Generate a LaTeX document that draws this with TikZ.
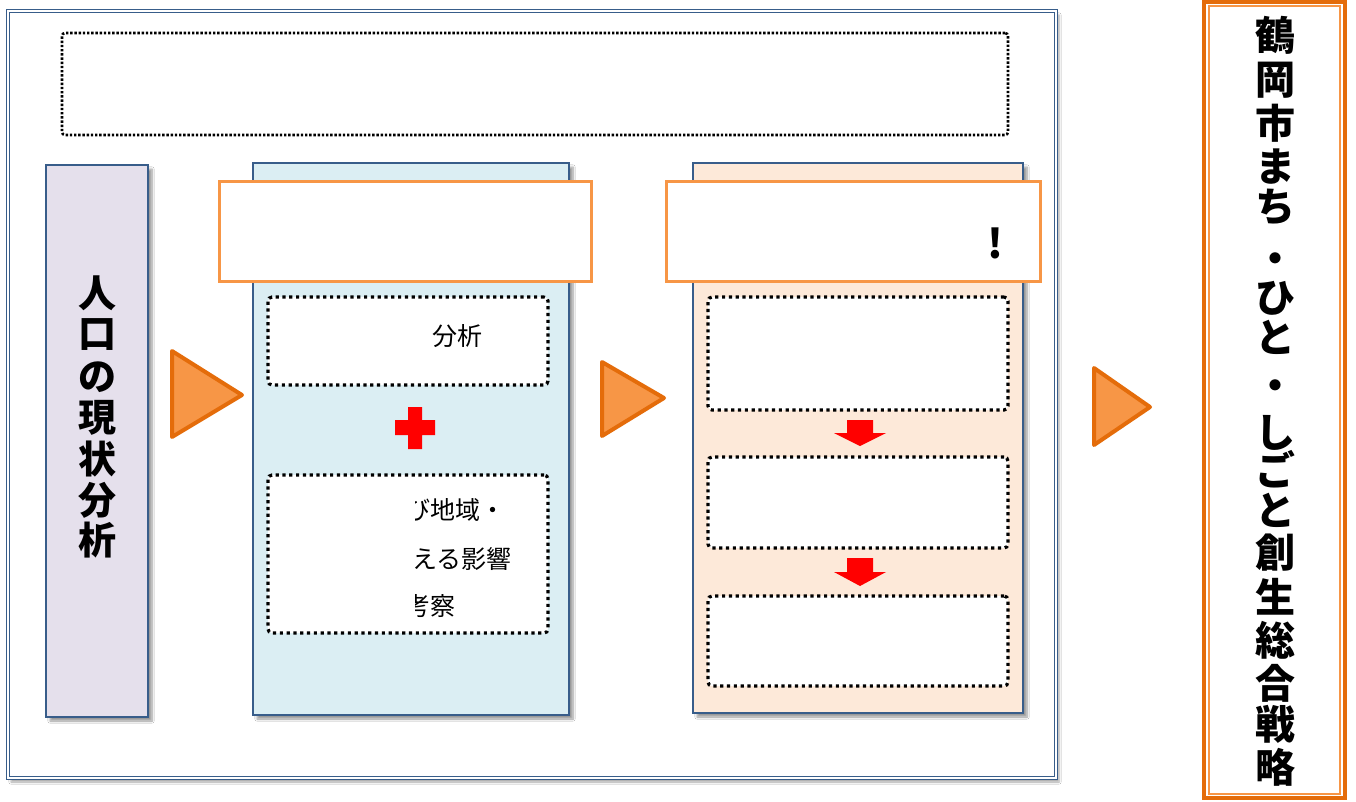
\documentclass[tikz,border=0pt]{standalone}
\usepackage{fontspec}
\setmainfont{Noto Sans CJK JP}
\usetikzlibrary{shadows.blur}
\definecolor{frameblue}{HTML}{385D8A}
\definecolor{lilac}{HTML}{E5E0EC}
\definecolor{paleblue}{HTML}{DBEEF3}
\definecolor{peach}{HTML}{FDE9D9}
\definecolor{orangeline}{HTML}{F79646}
\definecolor{darkorange}{HTML}{E46C0A}
\definecolor{tri}{HTML}{F79646}
\begin{document}
\begin{tikzpicture}[x=1pt,y=-1pt,
  shad/.style={blur shadow={shadow xshift=4pt,shadow yshift=-4pt,shadow blur steps=8,shadow opacity=40}},
  colbox/.style={draw=frameblue,line width=2pt,inner sep=0pt,shad},
  header/.style={draw=orangeline,fill=white,line width=3pt,inner sep=0pt},
  dotbox/.style={draw=black,fill=white,line width=3.2pt,dash pattern=on 3.2pt off 3.6pt,rounded corners=4pt,inner sep=0pt},
  tribox/.style={fill=tri,draw=darkorange,line width=4pt,line join=round},
  redmark/.style={fill=red,draw=none},
  vchar/.style={font=\fontsize{38}{38}\selectfont\bfseries,inner sep=0pt},
  rchar/.style={font=\fontsize{40}{40}\selectfont\bfseries,inner sep=0pt},
  small/.style={font=\fontsize{25}{25}\selectfont,inner sep=0pt}]
\useasboundingbox (0,0) rectangle (1356,801);
\fill[white] (0,0) rectangle (1356,801);

% outer frame
\node[draw=frameblue,line width=1.2pt,double=white,double distance=2pt,fill=white,minimum width=1048pt,minimum height=767pt,inner sep=0pt,blur shadow={shadow xshift=3pt,shadow yshift=-4pt,shadow opacity=35}] (frame) at (532,394.5) {};

% top dotted box
\node[draw=black,line width=2.6pt,dash pattern=on 2.4pt off 1.8pt,rounded corners=3pt,minimum width=946pt,minimum height=102pt,inner sep=0pt] (top) at (535,84) {};

% columns
\node[colbox,fill=lilac,minimum width=102pt,minimum height=552pt] (colA) at (97,441) {};
\node[colbox,fill=paleblue,minimum width=316pt,minimum height=552pt] (colB) at (411,439) {};
\node[colbox,fill=peach,minimum width=330pt,minimum height=550pt] (colC) at (858,438) {};

% headers
\node[header,minimum width=372pt,minimum height=100pt] (hB) at (405,231) {};
\node[header,minimum width=374pt,minimum height=100pt] (hC) at (853,231) {};
\node[font=\fontsize{40}{40}\selectfont\bfseries,inner sep=0pt] (excl) at (995,243) {!};

% left column text
\foreach \c/\yy [count=\i] in {人/293,口/335,の/377,現/418,状/459,分/500,析/540}{
  \node[vchar] (lt\i) at (97,\yy) {\c};
}

% blue column boxes
\node[dotbox,minimum width=280pt,minimum height=88pt] (b1) at (408,341) {};
\node[small] (b1t) at (457,336) {分析};
\node[dotbox,minimum width=280pt,minimum height=158pt] (b2) at (408,554) {};
\begin{scope}
  \clip (415,478) rectangle (546,630);
  \node[small,anchor=east] (b2a) at (506,510) {及び地域・};
  \node[small,anchor=east] (b2b) at (512,559) {与える影響};
  \node[small,anchor=east] (b2c) at (456,606) {考察};
\end{scope}

% red cross
\fill[redmark] (408,407) -- (422,407) -- (422,420) -- (435,420) -- (435,435) -- (422,435) -- (422,449) -- (408,449) -- (408,435) -- (395,435) -- (395,420) -- (408,420) -- cycle;

% peach column boxes
\node[dotbox,minimum width=300pt,minimum height=113pt] (c1) at (858,353.5) {};
\node[dotbox,minimum width=300pt,minimum height=91pt] (c2) at (858,502.5) {};
\node[dotbox,minimum width=300pt,minimum height=90pt] (c3) at (858,641) {};

% red down arrows
\fill[redmark] (847,420) -- (873,420) -- (873,433) -- (886,433) -- (860,446) -- (834,433) -- (847,433) -- cycle;
\fill[redmark] (847,558) -- (873,558) -- (873,572) -- (886,572) -- (860,586) -- (834,572) -- (847,572) -- cycle;

% orange triangles
\filldraw[tribox] (172,351) -- (242,395) -- (172,437) -- cycle;
\filldraw[tribox] (602,362) -- (664,398) -- (602,436) -- cycle;
\filldraw[tribox] (1094,368) -- (1150,407) -- (1094,445) -- cycle;

% right title box
\node[draw=darkorange,line width=4pt,fill=white,minimum width=141pt,minimum height=796pt,inner sep=0pt] (title) at (1274.5,400) {};
\draw[orangeline,line width=1.2pt] (1209,6) rectangle (1340,794);
\foreach \c/\yy [count=\i] in {鶴/35,岡/80,市/123,ま/167,ち/207,・/263,ひ/298,と/337,・/390,し/433,ご/469,と/510,創/553,生/597,総/640,合/683,戦/724,略/767}{
  \node[rchar] (rt\i) at (1275,\yy) {\c};
}
\end{tikzpicture}
\end{document}
